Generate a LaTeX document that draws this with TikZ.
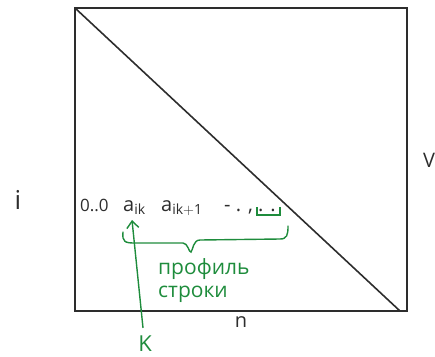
\documentclass[tikz,border=0pt]{standalone}
\usepackage{fontspec}
\setmainfont{Open Sans}
\usetikzlibrary{arrows.meta,positioning,calc}
\definecolor{inkgray}{RGB}{45,45,45}
\definecolor{penGreen}{RGB}{30,140,60}

\begin{document}
\begin{tikzpicture}[x=1pt,y=-1pt,every node/.style={font=\fontsize{20}{22}\selectfont,inkgray,inner sep=0pt}]
  \useasboundingbox (0,0) rectangle (435,356);
  % Matrix frame and diagonal
  \coordinate (tl) at (75,8);
  \coordinate (tr) at (407,8);
  \coordinate (br) at (407,311);
  \coordinate (bl) at (75,311);
  \draw[inkgray,line width=1.6pt] (tl) -- (tr) -- (br) -- (bl) -- cycle;
  \draw[inkgray,line width=1.6pt] (tl) -- (400,311);
  % Row labels
  \node (rowi) at (18,200) {\fontsize{26}{28}\selectfont i};
  \node (colN) at (241,322) {n};
  \node[anchor=west] (rightV) at (423,160) {V};
  % Row content
  \node[anchor=base west] (zeros) at (80,211) {\fontsize{17}{19}\selectfont 0..0};
  \node[anchor=base west] (aik) at (123,211) {a$_{\mathrm{ik}}$};
  \node[anchor=base west] (aikn) at (161,211) {a$_{\mathrm{ik+1}}$};
  \node[anchor=base west] (dots) at (224,211) {- . , . .};
  % Green marks
  \draw[penGreen,line width=1.4pt] (257,207) -- (257,215) -- (280,215) -- (280,207);
  \draw[penGreen,line width=1.4pt,line cap=round]
    (123,232) .. controls (122,242) and (125,243) .. (135,243)
    -- (183,243) .. controls (188,243) and (189,253) .. (191,252)
    .. controls (193,250) and (193,240) .. (200,240)
    -- (280,239) .. controls (287,239) and (288,235) .. (288,226);
  \node[penGreen,font=\fontsize{22}{24}\selectfont] (K) at (145,344) {K};
  \coordinate (kTop) at (132,220);
  \draw[penGreen,line width=1.4pt,-{Straight Barb[length=7pt,width=12pt]}] (K.north) ++(-2,-8) -- (kTop);
  \node[penGreen,font=\fontsize{21}{23}\selectfont,align=left,anchor=north west] (prof) at (158,258) {профиль\\[0pt]строки};
\end{tikzpicture}
\end{document}
